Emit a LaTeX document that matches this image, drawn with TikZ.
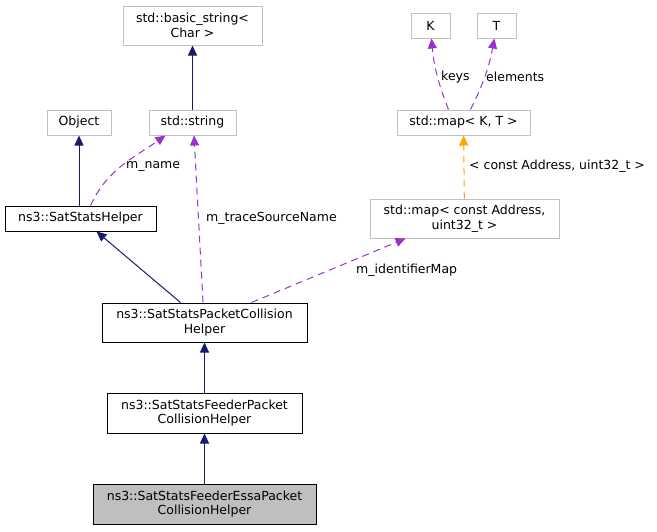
\documentclass[tikz,border=0pt]{standalone}
\usepackage{fontspec}
\setmainfont{DejaVu Sans}
\usetikzlibrary{arrows.meta,calc}
\tikzset{>={Triangle[length=10pt,width=9pt]}}

\definecolor{navyline}{HTML}{191970}
\definecolor{memberline}{HTML}{9A32CD}
\definecolor{tmplline}{HTML}{FFA500}
\definecolor{greyline}{HTML}{BFBFBF}

\tikzset{
  box/.style={draw, rectangle, inner sep=0pt, align=center, text=black, font=\fontsize{12.5}{14.5}\selectfont},
  extbox/.style={box, draw=greyline, line width=1pt},
  ownbox/.style={box, draw=black, line width=1pt},
  inherit/.style={->, navyline, line width=1pt},
  member/.style={->, memberline, dashed, dash pattern=on 7pt off 5pt, line width=1pt},
  tmpl/.style={->, tmplline, dashed, dash pattern=on 7pt off 5pt, line width=1pt},
  lbl/.style={font=\fontsize{12.5}{14.5}\selectfont, text=black, inner sep=1pt}
}

\begin{document}
\begin{tikzpicture}[x=1pt,y=-1pt]
    \useasboundingbox (0,0) rectangle (657,531);

    % External classes along the top
    \node[extbox, minimum width=139pt, minimum height=39pt] (bstr) at (192.5,25.5) {std::basic\_string\textless\\Char \textgreater};
    \node[extbox, minimum width=64pt, minimum height=25pt] (obj) at (79,122.5) {Object};
    \node[extbox, minimum width=87pt, minimum height=25pt] (str) at (192.5,122.5) {std::string};
    \node[extbox, minimum width=39pt, minimum height=25pt] (keyK) at (430.5,25.5) {K};
    \node[extbox, minimum width=39pt, minimum height=25pt] (valT) at (496.5,25.5) {T};
    \node[extbox, minimum width=133pt, minimum height=25pt] (mapkt) at (463.5,122.5) {std::map\textless{} K, T \textgreater};
    \node[extbox, minimum width=189pt, minimum height=39pt] (mapaddr) at (464.5,218.5) {std::map\textless{} const Address,\\uint32\_t \textgreater};

    % ns3 classes
    \node[ownbox, minimum width=151pt, minimum height=25pt] (helper) at (80.5,218.5) {ns3::SatStatsHelper};
    \node[ownbox, minimum width=205pt, minimum height=39pt] (pcoll) at (204.5,322.5) {ns3::SatStatsPacketCollision\\Helper};
    \node[ownbox, minimum width=195pt, minimum height=40pt] (feeder) at (204.5,413) {ns3::SatStatsFeederPacket\\CollisionHelper};
    \node[ownbox, fill=greyline, minimum width=223pt, minimum height=40pt] (essa) at (204.5,504) {ns3::SatStatsFeederEssaPacket\\CollisionHelper};

    % Inheritance
    \draw[inherit] (str) -- (bstr);
    \draw[inherit] (helper.north -| obj) -- (obj);
    \draw[inherit] ([xshift=-24pt]pcoll.north) -- ([xshift=16pt]helper.south);
    \draw[inherit] (feeder) -- (pcoll);
    \draw[inherit] (essa) -- (feeder);

    % Members
    \draw[member] ([xshift=10pt]helper.north) to[out=65,in=215] ([xshift=-27pt]str.south);
    \node[lbl, anchor=west] (mname) at (125,166) {m\_name};
    \draw[member] ([xshift=-1.5pt]pcoll.north) -- ([xshift=1.5pt]str.south);
    \node[lbl, anchor=west] (trace) at (205,218) {m\_traceSourceName};
    \draw[member] ([xshift=47pt]pcoll.north) -- ([xshift=-59pt]mapaddr.south);
    \node[lbl, anchor=west] (idmap) at (355,270) {m\_identifierMap};
    \draw[member] ([xshift=-15pt]mapkt.north) to[bend left=8] (keyK);
    \node[lbl, anchor=west] (keys) at (440,77) {keys};
    \draw[member] ([xshift=7pt]mapkt.north) to[bend right=8] (valT);
    \node[lbl, anchor=west] (elems) at (485,77) {elements};

    % Template instance
    \draw[tmpl] (mapaddr) -- (mapkt);
    \node[lbl, anchor=west] (targs) at (468,166) {\textless{} const Address, uint32\_t \textgreater};
\end{tikzpicture}
\end{document}
